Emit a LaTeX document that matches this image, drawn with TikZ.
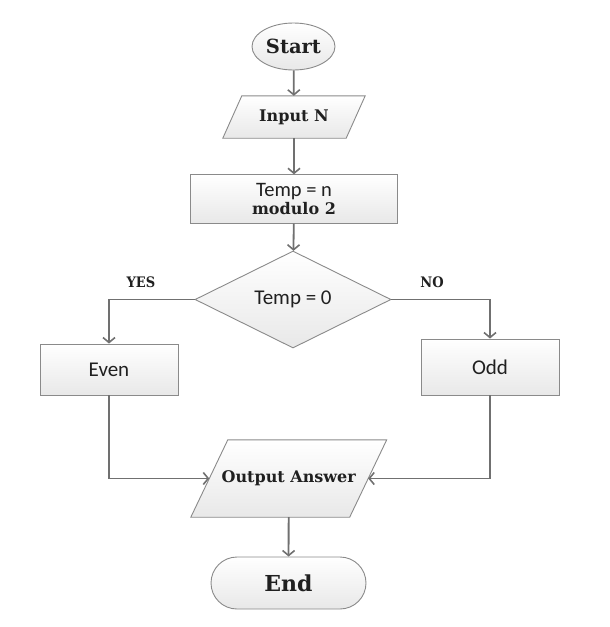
\documentclass[tikz,border=0pt]{standalone}
\usepackage{fontspec}
\setmainfont{DejaVu Serif}
\newfontfamily\calfont{Carlito}
\newfontfamily\condfont{DejaVu Serif Condensed}
\usetikzlibrary{shapes.geometric,shapes.misc,arrows.meta,backgrounds,calc}
\definecolor{linegray}{HTML}{707070}
\definecolor{bordergray}{HTML}{8A8A8A}
\definecolor{txt}{HTML}{202020}
\tikzset{
  box/.style={draw=bordergray, line width=0.9pt, top color=white, bottom color=black!9, inner sep=0pt, text=txt},
  boxfill/.style={draw=bordergray, line width=0.9pt, top color=white, bottom color=black!9},
  plain/.style={inner sep=0pt, text=txt},
  flow/.style={draw=linegray, line width=1.8pt, -{Straight Barb[length=5pt,width=12pt,line width=1.6pt]}},
  caltext/.style={font=\calfont\fontsize{21}{24}\selectfont},
  lbl/.style={font=\condfont\bfseries\fontsize{14.5}{16}\selectfont, text=txt}
}
\begin{document}
\begin{tikzpicture}[x=1pt,y=-1pt]
\useasboundingbox (0,0) rectangle (610,627);
\node[box, ellipse, minimum width=83pt, minimum height=47pt, font=\bfseries\fontsize{19.5}{22}\selectfont] (start) at (293.5,46.5) {Start};
% Input parallelogram: rectangle node is the mid-line box, slant 19
\node[plain, rectangle, minimum width=123pt, minimum height=42pt, font=\bfseries\fontsize{16}{19}\selectfont] (input) at (294,117) {Input N};
\node[box, rectangle, minimum width=207pt, minimum height=48.5pt, align=center] (temp) at (294,199) {{\calfont\fontsize{20.5}{22}\selectfont Temp = n}\\[1pt]{\bfseries\fontsize{16}{19}\selectfont modulo 2}};
\node[box, diamond, aspect=2.02, minimum width=196pt, minimum height=97pt, caltext] (dec) at (293,299.5) {Temp = 0};
\node[box, rectangle, minimum width=138pt, minimum height=51pt, caltext] (even) at (109,369.5) {Even};
\node[box, rectangle, minimum width=138pt, minimum height=56pt, caltext] (odd) at (490,367) {Odd};
% Output parallelogram: mid-line box, slant 37
\node[plain, rectangle, minimum width=158.5pt, minimum height=77pt, font=\bfseries\fontsize{16}{19}\selectfont] (out) at (288.75,478.5) {Output Answer};
\node[box, rounded rectangle, minimum width=155pt, minimum height=52pt, font=\bfseries\fontsize{22}{26}\selectfont] (end) at (288.5,583) {End};
\begin{scope}[on background layer]
\path[boxfill] ($(input.north west)+(9.5,0)$) -- ($(input.north east)+(9.5,0)$) -- ($(input.south east)+(-9.5,0)$) -- ($(input.south west)+(-9.5,0)$) -- cycle;
\path[boxfill] ($(out.north west)+(18.5,0)$) -- ($(out.north east)+(18.5,0)$) -- ($(out.south east)+(-18.5,0)$) -- ($(out.south west)+(-18.5,0)$) -- cycle;
\end{scope}
\node[lbl] (yes) at (141,282) {YES};
\node[lbl] (no) at (432,282) {NO};
\draw[flow] (start) -- (input);
\draw[flow] (input) -- (temp);
\draw[flow] (temp) -- (dec);
\draw[flow] (dec) -| (even);
\draw[flow] (dec) -| (odd);
\draw[flow] (even) |- (out.west);
\draw[flow] (odd) |- (out.east);
\draw[flow] (out) -- (end);
\end{tikzpicture}
\end{document}
